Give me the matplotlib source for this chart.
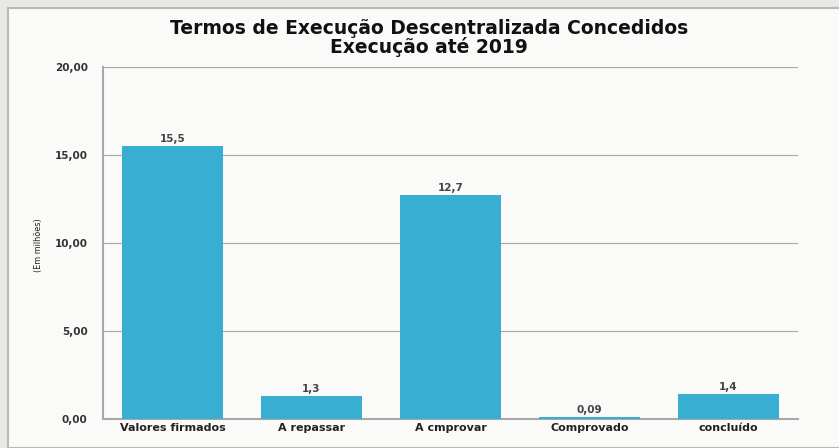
import matplotlib.pyplot as plt
from matplotlib.patches import Rectangle

categorias = ["Valores firmados", "A repassar", "A cmprovar", "Comprovado", "concluído"]
valores = [15.5, 1.3, 12.7, 0.09, 1.4]
rotulos = ["15,5", "1,3", "12,7", "0,09", "1,4"]
yticks = [0, 5, 10, 15, 20]
ytick_labels = ["0,00", "5,00", "10,00", "15,00", "20,00"]

W, H = 839, 448
fig = plt.figure(figsize=(W / 100, H / 100), dpi=100)
fig.patch.set_facecolor("#e9e8e4")

# painel claro com borda cinza
fig.patches.append(Rectangle((8 / W, 0), 1, 1 - 8 / H, transform=fig.transFigure,
                             facecolor="#fafaf8", edgecolor="#b8b8b6", linewidth=1.5, zorder=-10))

ax = fig.add_axes([103 / W, 1 - 419 / H, 695 / W, 352 / H])
ax.set_facecolor("#fafaf8")
ax.bar(range(len(categorias)), valores, width=0.727, color="#38aed2", zorder=3)
ax.set_xlim(-0.5, len(categorias) - 0.5)
ax.set_ylim(0, 20)

ax.set_yticks(yticks)
ax.set_yticklabels(ytick_labels, fontsize=7.5, fontweight="bold", color="#333333")
ax.set_xticks(range(len(categorias)))
ax.set_xticklabels(categorias, fontsize=8, fontweight="bold", color="#222222")
ax.tick_params(axis="y", length=0, pad=11)
ax.tick_params(axis="x", length=0, pad=3)
ax.grid(axis="y", color="#a6a6a6", linewidth=0.8, zorder=0)

for s in ["top", "right"]:
    ax.spines[s].set_visible(False)
for s in ["left", "bottom"]:
    ax.spines[s].set_color("#a8a8a8")
    ax.spines[s].set_linewidth(1.5)

for i, v in enumerate(valores):
    ax.text(i, v + 0.12, rotulos[i], ha="center", va="bottom", fontsize=7.5,
            fontweight="bold", color="#444444")

fig.text(38 / W, 1 - 245 / H, "(Em milhões)", rotation=90, ha="center", va="center",
         fontsize=6.5, family="DejaVu Sans", stretch="condensed", color="#222222")

fig.text(429 / W, 1 - 38 / H, "Termos de Execução Descentralizada Concedidos\nExecução até 2019",
         ha="center", va="center", fontsize=13.5, fontweight="heavy", linespacing=0.88,
         color="#111111")

fig.savefig("out.png", dpi=100, facecolor=fig.get_facecolor())
